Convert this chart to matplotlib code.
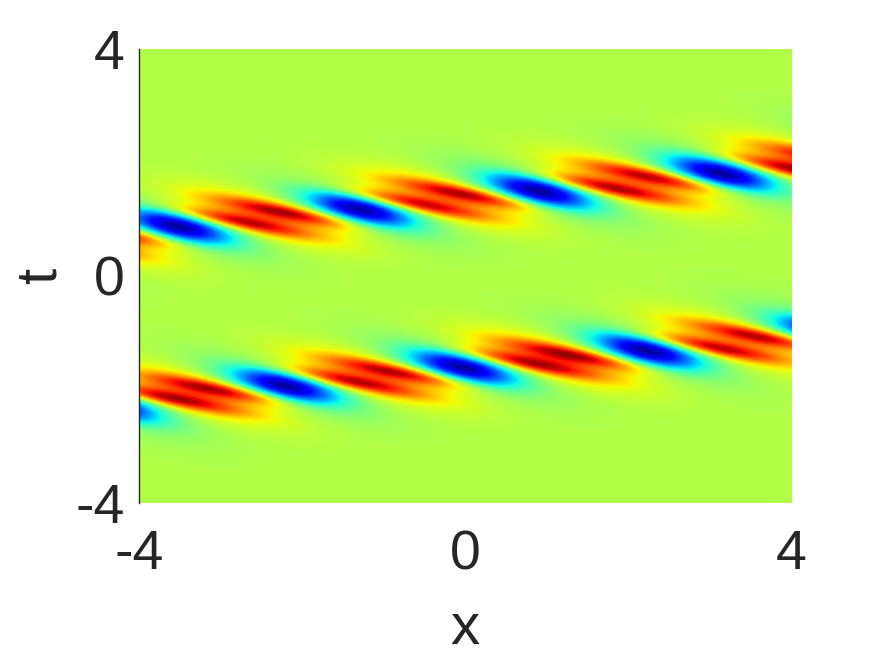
import numpy as np
from matplotlib import pyplot as plt

# lobe positions, in axis units
red_x = [-5.03, -2.80, -0.64, 1.73, 3.98, -4.38, -2.15, 0.06, 2.38, 4.59,
         -3.66, -1.45, 0.75, 3.00, 5.20, -5.25, -3.04, -0.80, 1.37, 3.69]
red_t = [0.65, 0.97, 1.29, 1.57, 1.90, 0.79, 1.11, 1.43, 1.73, 2.04,
         -2.15, -1.85, -1.53, -1.25, -0.93, -2.33, -2.01, -1.71, -1.41, -1.09]
blue_x = [-5.76, -3.53, -1.29, 0.91, 3.14, 5.37, -4.44, -2.21, -0.03, 2.24, 4.47]
blue_t = [0.57, 0.88, 1.18, 1.50, 1.81, 2.12, -2.26, -1.94, -1.62, -1.32, -1.00]

background = 0.565
x_ticks = [-4, 0, 4]
t_ticks = [-4, 0, 4]

tilt = 0.27
text_color = '#262626'


def lobe(X, T, x0, t0, su, sv):
    u = X - x0
    v = (T - t0) + tilt * u
    return np.exp(-0.5 * (u / su) ** 2 - 0.5 * (v / sv) ** 2)


xs = np.linspace(-4, 4, 400)
ts = np.linspace(-4, 4, 300)
X, T = np.meshgrid(xs, ts)

field = np.full(X.shape, background)
for x0, t0 in zip(red_x, red_t):
    field += 0.31 * lobe(X, T, x0, t0, 0.58, 0.095)
    field += 0.13 * lobe(X, T, x0, t0, 0.90, 0.27)
for x0, t0 in zip(blue_x, blue_t):
    field -= 0.46 * lobe(X, T, x0, t0, 0.46, 0.18)
    field -= 0.18 * lobe(X, T, x0, t0, 0.85, 0.34)

plt.rcParams['font.family'] = ['Liberation Sans', 'DejaVu Sans']
plt.rcParams['axes.unicode_minus'] = False

fig = plt.figure(figsize=(8.75, 6.56), dpi=100)
ax = fig.add_axes([139 / 875, 153 / 656, 652.5 / 875, 454 / 656])
ax.imshow(field, cmap='jet', vmin=0, vmax=1, origin='lower', aspect='auto',
          extent=[-4, 4, -4, 4], interpolation='bilinear')

ax.set_xticks(x_ticks)
ax.set_yticks(t_ticks)
ax.tick_params(length=0, labelsize=40, colors=text_color)
ax.tick_params(axis='x', pad=19)
ax.tick_params(axis='y', pad=10)
for spine in ['top', 'right', 'bottom']:
    ax.spines[spine].set_visible(False)
ax.spines['left'].set_color(text_color)
ax.spines['left'].set_linewidth(1)

ax.set_xlabel('x', fontsize=42, color=text_color, labelpad=15)
ax.set_ylabel('t', fontsize=42, color=text_color, labelpad=6)

fig.savefig('out.png', dpi=100)
